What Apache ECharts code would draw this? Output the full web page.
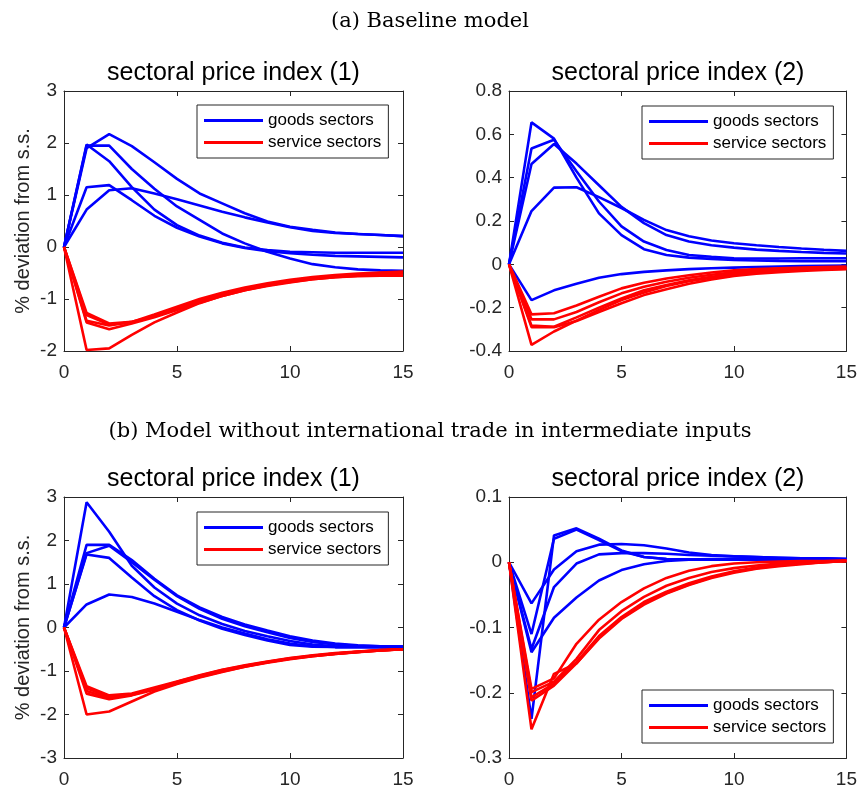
<!DOCTYPE html>
<html><head><meta charset="utf-8">
<script src="https://cdn.jsdelivr.net/npm/echarts@6/dist/echarts.min.js"></script>
<style>html,body{margin:0;padding:0;background:#fff}#c{width:860px;height:789px}</style>
</head><body><div id="c"></div><script>
// ---------- data ----------
const periods = [0,1,2,3,4,5,6,7,8,9,10,11,12,13,14,15];
const xRange = [0, 15, 5];
const headingA = "(a) Baseline model";
const headingB = "(b) Model without international trade in intermediate inputs";
const panelTitles = ["sectoral price index (1)", "sectoral price index (2)", "sectoral price index (1)", "sectoral price index (2)"];
const seriesNames = ["goods sectors", "service sectors"];
const yLabel = "% deviation from s.s.";

// (a) baseline, price index (1)
const yRangeA1 = [-2, 3, 1];
const goodsA1 = [
  [0,1.90,2.17,1.94,1.63,1.31,1.03,0.84,0.65,0.49,0.39,0.33,0.28,0.25,0.23,0.21],
  [0,1.97,1.65,1.15,0.72,0.42,0.22,0.08,-0.01,-0.06,-0.09,-0.10,-0.11,-0.11,-0.11,-0.11],
  [0,1.95,1.95,1.50,1.12,0.78,0.52,0.26,0.07,-0.09,-0.22,-0.33,-0.39,-0.43,-0.45,-0.46],
  [0,1.15,1.19,0.90,0.60,0.37,0.20,0.07,-0.02,-0.08,-0.12,-0.15,-0.17,-0.18,-0.19,-0.20],
  [0,0.72,1.09,1.13,1.03,0.92,0.80,0.68,0.57,0.47,0.38,0.31,0.27,0.25,0.23,0.21]
];
const servicesA1 = [
  [0,-1.27,-1.47,-1.44,-1.30,-1.15,-1.00,-0.88,-0.78,-0.70,-0.63,-0.58,-0.54,-0.51,-0.49,-0.47],
  [0,-1.31,-1.49,-1.45,-1.32,-1.18,-1.03,-0.90,-0.80,-0.72,-0.65,-0.60,-0.56,-0.53,-0.50,-0.48],
  [0,-1.42,-1.51,-1.44,-1.33,-1.19,-1.05,-0.92,-0.82,-0.73,-0.66,-0.61,-0.57,-0.54,-0.52,-0.50],
  [0,-1.45,-1.58,-1.47,-1.35,-1.21,-1.07,-0.94,-0.83,-0.75,-0.68,-0.62,-0.58,-0.55,-0.53,-0.51],
  [0,-1.98,-1.95,-1.69,-1.45,-1.26,-1.08,-0.94,-0.83,-0.74,-0.67,-0.62,-0.58,-0.56,-0.55,-0.55]
];

// (a) baseline, price index (2)
const yRangeA2 = [-0.4, 0.8, 0.2];
const goodsA2 = [
  [0,0.655,0.58,0.40,0.235,0.135,0.07,0.043,0.031,0.025,0.02,0.018,0.016,0.015,0.015,0.015],
  [0,0.535,0.575,0.43,0.29,0.175,0.105,0.066,0.043,0.035,0.028,0.027,0.027,0.028,0.028,0.028],
  [0,0.463,0.555,0.465,0.365,0.265,0.19,0.135,0.105,0.088,0.077,0.068,0.062,0.057,0.053,0.05],
  [0,0.246,0.354,0.356,0.31,0.26,0.205,0.158,0.13,0.11,0.097,0.088,0.08,0.073,0.067,0.062],
  [0,-0.165,-0.12,-0.09,-0.062,-0.045,-0.035,-0.028,-0.022,-0.018,-0.015,-0.012,-0.01,-0.008,-0.007,-0.006]
];
const servicesA2 = [
  [0,-0.231,-0.226,-0.19,-0.15,-0.111,-0.085,-0.065,-0.05,-0.038,-0.028,-0.022,-0.018,-0.015,-0.012,-0.01],
  [0,-0.254,-0.254,-0.22,-0.175,-0.134,-0.103,-0.08,-0.062,-0.048,-0.037,-0.03,-0.025,-0.02,-0.017,-0.015],
  [0,-0.283,-0.288,-0.245,-0.2,-0.157,-0.12,-0.095,-0.074,-0.058,-0.045,-0.036,-0.03,-0.025,-0.021,-0.018],
  [0,-0.29,-0.29,-0.262,-0.22,-0.18,-0.142,-0.115,-0.09,-0.07,-0.054,-0.043,-0.036,-0.03,-0.026,-0.022],
  [0,-0.372,-0.31,-0.26,-0.21,-0.165,-0.13,-0.1,-0.078,-0.062,-0.048,-0.038,-0.031,-0.026,-0.023,-0.02]
];

// (b) no trade in intermediates, price index (1)
const yRangeB1 = [-3, 3, 1];
const goodsB1 = [
  [0,2.88,2.20,1.42,0.92,0.55,0.28,0.08,-0.08,-0.20,-0.31,-0.39,-0.43,-0.44,-0.45,-0.45],
  [0,1.90,1.90,1.55,1.12,0.74,0.46,0.24,0.07,-0.07,-0.20,-0.30,-0.37,-0.41,-0.43,-0.44],
  [0,1.71,1.88,1.50,1.10,0.72,0.43,0.20,0.03,-0.11,-0.24,-0.33,-0.39,-0.42,-0.43,-0.44],
  [0,1.68,1.60,1.15,0.72,0.40,0.16,-0.03,-0.17,-0.30,-0.40,-0.44,-0.45,-0.45,-0.45,-0.45],
  [0,0.53,0.76,0.70,0.55,0.36,0.17,0.00,-0.14,-0.27,-0.37,-0.43,-0.45,-0.45,-0.45,-0.45]
];
const servicesB1 = [
  [0,-1.35,-1.56,-1.52,-1.38,-1.24,-1.10,-0.97,-0.87,-0.78,-0.70,-0.64,-0.59,-0.55,-0.52,-0.50],
  [0,-1.40,-1.59,-1.54,-1.40,-1.25,-1.11,-0.98,-0.88,-0.79,-0.71,-0.65,-0.60,-0.56,-0.52,-0.50],
  [0,-1.46,-1.62,-1.55,-1.41,-1.27,-1.12,-0.99,-0.89,-0.80,-0.72,-0.66,-0.61,-0.56,-0.53,-0.50],
  [0,-1.52,-1.65,-1.56,-1.43,-1.29,-1.14,-1.01,-0.90,-0.81,-0.73,-0.66,-0.61,-0.57,-0.53,-0.50],
  [0,-2.00,-1.93,-1.70,-1.47,-1.30,-1.15,-1.02,-0.90,-0.80,-0.72,-0.65,-0.60,-0.56,-0.53,-0.50]
];

// (b) no trade in intermediates, price index (2)
const yRangeB2 = [-0.3, 0.1, 0.1];
const goodsB2 = [
  [0,-0.24,0.041,0.052,0.036,0.018,0.008,0.005,0.004,0.004,0.004,0.004,0.004,0.004,0.004,0.004],
  [0,-0.11,0.036,0.050,0.034,0.017,0.008,0.005,0.004,0.004,0.004,0.004,0.004,0.004,0.004,0.004],
  [0,-0.063,-0.011,0.017,0.027,0.028,0.026,0.021,0.015,0.011,0.009,0.008,0.007,0.006,0.006,0.005],
  [0,-0.133,-0.038,-0.002,0.012,0.014,0.014,0.013,0.011,0.010,0.009,0.008,0.007,0.006,0.006,0.005],
  [0,-0.138,-0.085,-0.054,-0.028,-0.012,-0.003,0.002,0.004,0.005,0.005,0.005,0.005,0.005,0.005,0.005]
];
const servicesB2 = [
  [0,-0.194,-0.178,-0.125,-0.088,-0.061,-0.040,-0.024,-0.013,-0.006,-0.002,0.000,0.001,0.002,0.002,0.003],
  [0,-0.199,-0.183,-0.148,-0.104,-0.075,-0.053,-0.036,-0.024,-0.015,-0.009,-0.005,-0.002,0.000,0.001,0.002],
  [0,-0.207,-0.186,-0.153,-0.113,-0.084,-0.061,-0.045,-0.032,-0.022,-0.014,-0.008,-0.004,-0.002,0.000,0.002],
  [0,-0.212,-0.189,-0.155,-0.115,-0.086,-0.063,-0.047,-0.034,-0.023,-0.015,-0.009,-0.005,-0.002,0.000,0.002],
  [0,-0.256,-0.171,-0.155,-0.117,-0.087,-0.065,-0.048,-0.035,-0.024,-0.016,-0.010,-0.006,-0.003,0.000,0.002]
];

// ---------- layout ----------
const FONT = "Liberation Sans, Arial, Helvetica, sans-serif";
const SERIF = "DejaVu Serif, Liberation Serif, serif";
const AX = '#262626';
const grids = [
  {left: 64, top: 91, width: 339, height: 260},
  {left: 509, top: 91, width: 338, height: 260},
  {left: 64, top: 497, width: 339, height: 261},
  {left: 509, top: 497, width: 338, height: 261}
];
const yRanges = [yRangeA1, yRangeA2, yRangeB1, yRangeB2];
const panelGoods = [goodsA1, goodsA2, goodsB1, goodsB2];
const panelServices = [servicesA1, servicesA2, servicesB1, servicesB2];
const legendPos = [
  {left: 197, top: 105}, {left: 642, top: 106},
  {left: 197, top: 512}, {left: 642, top: 690}
];
const COLORS = ['#0000ff', '#ff0000'];

const xAxis = [], yAxis = [], series = [], title = [], legend = [];
const lineOpt = {show: true, onZero: false, lineStyle: {color: AX, width: 1}};
const tickOpt = {show: true, inside: true, length: 5, lineStyle: {color: AX, width: 1}};

grids.forEach((g, i) => {
  const [ymin, ymax, yint] = yRanges[i];
  xAxis.push({type: 'value', gridIndex: i, position: 'bottom', min: xRange[0], max: xRange[1], interval: xRange[2],
    axisLine: lineOpt, axisTick: tickOpt, splitLine: {show: false},
    axisLabel: {show: true, margin: 12, color: AX, fontSize: 19, fontFamily: FONT}});
  xAxis.push({type: 'value', gridIndex: i, position: 'top', min: xRange[0], max: xRange[1], interval: xRange[2],
    axisLine: lineOpt, axisTick: tickOpt, splitLine: {show: false}, axisLabel: {show: false}});
  const yl = {type: 'value', gridIndex: i, position: 'left', min: ymin, max: ymax, interval: yint,
    axisLine: lineOpt, axisTick: tickOpt, splitLine: {show: false},
    axisLabel: {show: true, margin: 7, color: AX, fontSize: 19, fontFamily: FONT}};
  if (i % 2 === 0) {
    yl.name = yLabel; yl.nameLocation = 'middle'; yl.nameRotate = 90; yl.nameGap = 31;
    yl.nameTextStyle = {color: AX, fontSize: 20, fontFamily: FONT};
  }
  yAxis.push(yl);
  yAxis.push({type: 'value', gridIndex: i, position: 'right', min: ymin, max: ymax, interval: yint,
    axisLine: lineOpt, axisTick: tickOpt, splitLine: {show: false}, axisLabel: {show: false}});

  const groups = [panelGoods[i], panelServices[i]];
  groups.forEach((grp, k) => {
    grp.forEach(vals => {
      series.push({type: 'line', name: seriesNames[k], xAxisIndex: 2 * i, yAxisIndex: 2 * i,
        data: vals.map((v, j) => [periods[j], v]), symbol: 'none', silent: true, animation: false,
        color: COLORS[k], lineStyle: {color: COLORS[k], width: 2.6}});
    });
  });

  title.push({text: panelTitles[i], left: g.left + g.width / 2, top: g.top - 30, textAlign: 'center', padding: 0,
    textStyle: {fontFamily: FONT, fontSize: 25, fontWeight: 'normal', color: '#000'}});

  legend.push({data: seriesNames, orient: 'vertical', left: legendPos[i].left, top: legendPos[i].top,
    padding: [7, 7, 7, 7], itemGap: 5, itemWidth: 59, itemHeight: 3, icon: 'rect',
    backgroundColor: '#fff', borderColor: AX, borderWidth: 1, borderRadius: 0,
    selectedMode: false,
    textStyle: {fontFamily: FONT, fontSize: 17, lineHeight: 17, color: '#000'}});
});

title.push({text: headingA, left: 430, top: 11, textAlign: 'center', padding: 0,
  textStyle: {fontFamily: SERIF, fontSize: 21, fontWeight: 'normal', color: '#000'}});
title.push({text: headingB, left: 430, top: 421, textAlign: 'center', padding: 0,
  textStyle: {fontFamily: SERIF, fontSize: 21, fontWeight: 'normal', color: '#000'}});

const chart = echarts.init(document.getElementById('c'), null, {renderer: 'canvas'});
chart.setOption({animation: false, backgroundColor: '#fff', grid: grids, xAxis, yAxis, series, title, legend});
</script></body></html>
